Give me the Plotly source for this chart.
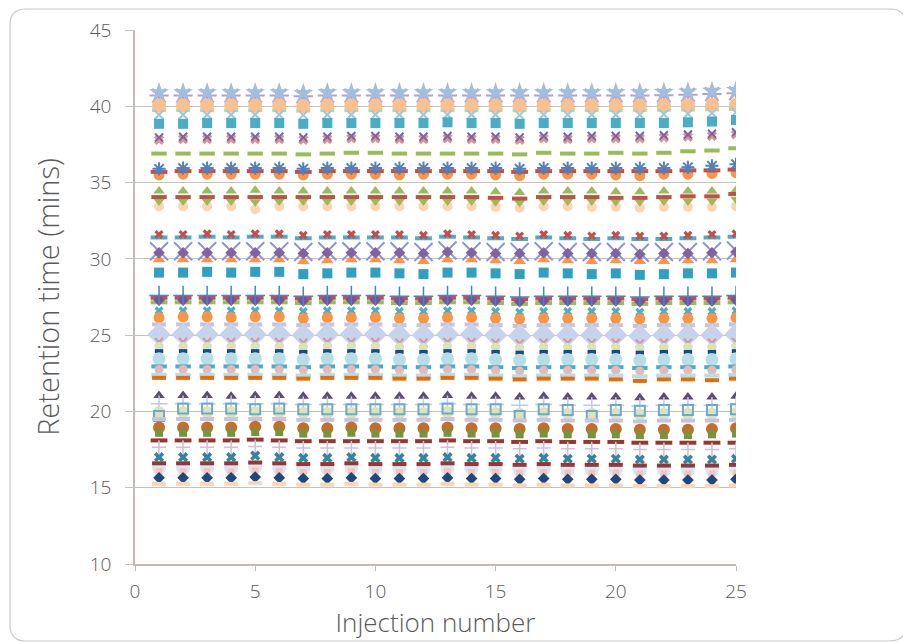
import plotly.graph_objects as go

injection = list(range(1, 26))

# Retention times (mins) per compound
rt_star_lb = [40.90,40.90,40.90,40.90,40.90,40.90,40.85,40.90,40.90,40.90,40.90,40.90,40.90,40.90,40.90,40.90,40.90,40.90,40.90,40.90,40.90,40.92,40.95,41.00,41.05]
rt_ast_lp = [40.70,40.70,40.70,40.70,40.70,40.70,40.65,40.70,40.70,40.70,40.70,40.70,40.70,40.70,40.70,40.70,40.70,40.70,40.70,40.70,40.70,40.72,40.75,40.80,40.85]
rt_circ_lo = [40.05,40.05,40.05,40.05,40.05,40.05,40.02,40.05,40.05,40.05,40.05,40.05,40.05,40.05,40.05,40.05,40.05,40.05,40.05,40.05,40.05,40.05,40.07,40.08,40.10]
rt_dash_lg = [39.75,39.75,39.75,39.75,39.75,39.75,39.72,39.75,39.75,39.75,39.75,39.75,39.75,39.75,39.75,39.75,39.75,39.75,39.75,39.75,39.75,39.77,39.78,39.80,39.82]
rt_x_la = [39.45,39.45,39.45,39.45,39.45,39.45,39.42,39.45,39.45,39.45,39.45,39.45,39.45,39.45,39.45,39.42,39.45,39.45,39.45,39.45,39.45,39.48,39.50,39.55,39.60]
rt_sq_aq = [38.85,38.85,38.90,38.90,38.90,38.90,38.85,38.90,38.90,38.90,38.90,38.90,38.95,38.90,38.90,38.85,38.90,38.90,38.90,38.90,38.90,38.90,38.95,39.00,39.10]
rt_x_pu = [37.95,38.00,38.00,38.00,38.00,38.00,37.95,38.00,38.05,38.05,38.00,38.00,38.05,38.00,38.00,37.95,38.05,38.00,38.05,38.05,38.05,38.10,38.15,38.20,38.30]
rt_x_lr = [37.80,37.85,37.85,37.85,37.85,37.85,37.80,37.85,37.90,37.90,37.85,37.85,37.90,37.85,37.85,37.80,37.90,37.85,37.90,37.90,37.90,37.95,38.00,38.05,38.15]
rt_dash_gr = [36.90,36.90,36.90,36.90,36.90,36.90,36.85,36.90,36.95,36.95,36.90,36.90,36.90,36.90,36.90,36.85,36.95,36.90,36.90,36.95,36.90,36.95,37.05,37.10,37.25]
rt_star_bl = [35.90,35.95,35.95,35.95,35.95,35.95,35.90,35.95,35.95,35.95,35.95,35.95,35.95,35.95,35.95,35.90,35.95,35.95,35.95,35.95,35.95,35.95,36.00,36.10,36.20]
rt_dash_rd = [35.70,35.75,35.75,35.75,35.75,35.75,35.70,35.75,35.75,35.75,35.75,35.75,35.75,35.75,35.75,35.70,35.75,35.75,35.75,35.75,35.75,35.75,35.80,35.80,35.85]
rt_circ_or = [35.50,35.55,35.55,35.55,35.55,35.55,35.50,35.55,35.55,35.55,35.50,35.55,35.55,35.55,35.50,35.45,35.55,35.55,35.55,35.50,35.45,35.55,35.55,35.60,35.65]
rt_tri_gr = [34.45,34.45,34.45,34.45,34.50,34.45,34.45,34.45,34.45,34.45,34.45,34.45,34.45,34.45,34.40,34.35,34.45,34.45,34.45,34.40,34.40,34.45,34.45,34.45,34.50]
rt_sq_rd = [34.05,34.05,34.05,34.05,34.05,34.05,34.05,34.05,34.05,34.05,34.05,34.05,34.05,34.05,34.00,33.95,34.05,34.05,34.05,34.00,34.00,34.05,34.10,34.10,34.25]
rt_tri_dg = [33.80,33.80,33.80,33.80,33.75,33.80,33.80,33.80,33.80,33.80,33.80,33.80,33.80,33.80,33.75,33.70,33.80,33.80,33.80,33.75,33.75,33.80,33.80,33.80,33.90]
rt_circ_lo2 = [33.45,33.45,33.45,33.45,33.25,33.45,33.45,33.45,33.45,33.45,33.45,33.45,33.45,33.45,33.40,33.35,33.45,33.45,33.40,33.40,33.35,33.40,33.40,33.40,33.45]
rt_x_rd = [31.60,31.60,31.65,31.60,31.65,31.65,31.55,31.60,31.60,31.60,31.60,31.55,31.65,31.60,31.55,31.50,31.60,31.55,31.50,31.55,31.50,31.50,31.55,31.60,31.65]
rt_dash_aq = [31.40,31.40,31.45,31.40,31.45,31.45,31.35,31.40,31.40,31.40,31.40,31.35,31.45,31.40,31.35,31.30,31.40,31.35,31.30,31.35,31.30,31.30,31.35,31.40,31.45]
rt_x_big = [30.50,30.50,30.50,30.50,30.50,30.50,30.45,30.50,30.50,30.50,30.50,30.45,30.55,30.50,30.45,30.45,30.50,30.45,30.45,30.45,30.40,30.45,30.45,30.50,30.55]
rt_dia_pu = [30.40,30.40,30.40,30.40,30.40,30.40,30.35,30.40,30.40,30.40,30.40,30.35,30.45,30.40,30.35,30.35,30.40,30.35,30.35,30.35,30.30,30.35,30.35,30.40,30.45]
rt_tri_or = [29.95,29.95,29.95,29.95,29.95,29.95,29.85,29.90,29.95,29.95,29.90,29.85,29.95,29.95,29.90,29.85,29.95,29.90,29.85,29.90,29.85,29.85,29.90,29.90,29.95]
rt_sq_da = [29.10,29.10,29.15,29.10,29.15,29.15,29.00,29.05,29.10,29.10,29.05,29.00,29.10,29.10,29.05,29.00,29.10,29.05,29.00,29.05,28.95,29.00,29.05,29.05,29.10]
rt_plus_bl = [27.60,27.60,27.60,27.60,27.60,27.60,27.55,27.60,27.60,27.60,27.55,27.55,27.60,27.60,27.55,27.50,27.55,27.55,27.55,27.55,27.50,27.55,27.55,27.55,27.60]
rt_dash_rd2 = [27.45,27.45,27.45,27.45,27.45,27.45,27.40,27.45,27.45,27.45,27.40,27.40,27.45,27.45,27.40,27.35,27.40,27.40,27.40,27.40,27.35,27.40,27.40,27.40,27.45]
rt_dia_pu2 = [27.30,27.30,27.30,27.30,27.30,27.30,27.25,27.30,27.30,27.30,27.25,27.25,27.30,27.30,27.25,27.20,27.25,27.25,27.25,27.25,27.20,27.25,27.25,27.25,27.30]
rt_dash_gr2 = [27.15,27.15,27.15,27.15,27.15,27.15,27.10,27.15,27.15,27.15,27.10,27.10,27.15,27.15,27.10,27.05,27.10,27.10,27.10,27.10,27.05,27.10,27.10,27.10,27.15]
rt_x_aq = [26.60,26.60,26.60,26.60,26.60,26.60,26.55,26.60,26.60,26.60,26.55,26.55,26.60,26.60,26.55,26.50,26.55,26.55,26.55,26.55,26.50,26.55,26.55,26.55,26.60]
rt_circ_or2 = [26.15,26.20,26.20,26.15,26.20,26.20,26.10,26.15,26.15,26.15,26.10,26.10,26.15,26.15,26.10,26.05,26.10,26.10,26.10,26.10,26.05,26.10,26.10,26.10,26.15]
rt_dash_lp = [25.70,25.70,25.70,25.70,25.70,25.70,25.65,25.70,25.70,25.70,25.65,25.65,25.70,25.70,25.65,25.60,25.65,25.65,25.65,25.65,25.60,25.65,25.65,25.65,25.70]
rt_dia_big = [25.05,25.05,25.05,25.05,25.05,25.05,25.00,25.05,25.05,25.05,25.00,25.00,25.05,25.05,25.00,24.95,25.00,25.00,25.00,25.00,24.95,25.00,25.00,25.00,25.05]
rt_x_lr2 = [24.55,24.55,24.55,24.55,24.55,24.55,24.50,24.55,24.55,24.55,24.50,24.50,24.55,24.55,24.50,24.45,24.50,24.50,24.50,24.50,24.45,24.50,24.50,24.50,24.55]
rt_circ_lg = [24.25,24.25,24.25,24.25,24.25,24.25,24.20,24.25,24.25,24.25,24.20,24.20,24.25,24.25,24.20,24.15,24.20,24.20,24.20,24.20,24.15,24.20,24.20,24.20,24.25]
rt_dash_db = [23.95,23.95,23.95,23.95,23.95,23.95,23.90,23.95,23.95,23.95,23.90,23.90,23.95,23.95,23.90,23.85,23.90,23.90,23.90,23.90,23.85,23.90,23.90,23.90,23.95]
rt_circ_la = [23.45,23.45,23.45,23.45,23.45,23.45,23.40,23.45,23.45,23.45,23.40,23.40,23.45,23.45,23.40,23.35,23.40,23.40,23.40,23.40,23.35,23.40,23.40,23.40,23.45]
rt_dash_aq2 = [22.95,22.95,22.95,22.95,22.95,22.95,22.90,22.95,22.95,22.95,22.90,22.90,22.95,22.95,22.90,22.85,22.90,22.90,22.90,22.90,22.85,22.90,22.90,22.90,22.95]
rt_circ_pk = [22.75,22.75,22.75,22.75,22.75,22.75,22.70,22.75,22.75,22.75,22.70,22.70,22.75,22.75,22.70,22.65,22.70,22.70,22.70,22.70,22.65,22.70,22.70,22.70,22.75]
rt_dash_la = [22.40,22.40,22.40,22.40,22.40,22.40,22.35,22.40,22.40,22.40,22.35,22.35,22.40,22.40,22.35,22.30,22.35,22.35,22.35,22.35,22.30,22.35,22.35,22.35,22.40]
rt_dash_or = [22.20,22.20,22.20,22.20,22.20,22.20,22.15,22.20,22.20,22.20,22.15,22.15,22.20,22.20,22.15,22.10,22.15,22.15,22.15,22.10,22.00,22.10,22.10,22.05,22.15]
rt_tri_dp = [21.05,21.05,21.05,21.00,21.05,21.05,21.00,21.00,21.00,21.00,21.00,21.00,21.05,21.00,21.00,20.95,21.00,20.95,20.95,20.95,20.90,20.95,20.95,20.95,21.00]
rt_plus_lb = [20.50,20.50,20.50,20.50,20.50,20.50,20.45,20.45,20.45,20.45,20.45,20.45,20.50,20.45,20.45,20.40,20.45,20.40,20.40,20.40,20.35,20.40,20.40,20.40,20.45]
rt_sq_bl = [19.70,20.20,20.20,20.20,20.15,20.20,20.15,20.15,20.15,20.15,20.15,20.15,20.20,20.15,20.15,19.70,20.15,20.10,19.70,20.10,20.05,20.10,20.10,20.10,20.15]
rt_circ_lg2 = [19.95,19.95,19.95,19.95,19.95,19.95,19.90,19.90,19.90,19.90,19.90,19.90,19.95,19.90,19.90,19.85,19.90,19.85,19.85,19.85,19.80,19.85,19.85,19.85,19.90]
rt_dash_lp2 = [19.50,19.50,19.50,19.50,19.50,19.50,19.45,19.45,19.45,19.45,19.45,19.45,19.50,19.45,19.45,19.40,19.45,19.40,19.40,19.40,19.35,19.40,19.40,19.40,19.45]
rt_circ_br = [18.95,18.95,18.95,18.95,19.00,19.00,18.90,18.90,18.95,18.90,18.90,18.90,18.95,18.90,18.90,18.85,18.90,18.85,18.85,18.85,18.80,18.80,18.80,18.85,18.90]
rt_sq_gr = [18.60,18.60,18.60,18.60,18.65,18.65,18.55,18.55,18.60,18.55,18.55,18.55,18.60,18.55,18.55,18.50,18.55,18.50,18.50,18.50,18.45,18.45,18.45,18.50,18.55]
rt_dash_dr = [18.10,18.10,18.10,18.10,18.15,18.10,18.05,18.05,18.05,18.05,18.05,18.05,18.10,18.05,18.05,18.00,18.05,18.00,18.00,18.00,17.95,17.95,17.95,17.95,17.95]
rt_plus_lp = [17.65,17.65,17.65,17.65,17.70,17.65,17.60,17.60,17.60,17.60,17.60,17.60,17.65,17.60,17.60,17.55,17.60,17.55,17.55,17.55,17.50,17.50,17.50,17.50,17.55]
rt_x_te = [17.00,17.00,17.00,17.00,17.10,17.00,16.95,16.95,17.00,16.95,16.95,16.95,17.00,16.95,16.95,16.90,16.95,16.90,16.90,16.90,16.85,16.85,16.85,16.85,16.90]
rt_dash_dr2 = [16.60,16.60,16.60,16.60,16.65,16.60,16.55,16.55,16.60,16.55,16.55,16.55,16.60,16.55,16.55,16.50,16.55,16.50,16.50,16.50,16.45,16.45,16.45,16.45,16.50]
rt_circ_bg = [16.30,16.30,16.30,16.30,16.35,16.30,16.25,16.25,16.30,16.25,16.25,16.25,16.30,16.25,16.25,16.20,16.25,16.20,16.20,16.20,16.15,16.15,16.15,16.15,16.20]
rt_sq_pk = [16.05,16.05,16.05,16.05,16.10,16.05,16.00,16.00,16.05,16.00,16.00,16.00,16.05,16.00,16.00,15.95,16.00,15.95,15.95,15.95,15.90,15.90,15.90,15.90,15.95]
rt_dia_db = [15.65,15.65,15.65,15.65,15.70,15.65,15.60,15.60,15.65,15.60,15.60,15.60,15.65,15.60,15.60,15.55,15.60,15.55,15.55,15.55,15.50,15.50,15.50,15.50,15.55]
rt_dash_lo = [15.25,15.25,15.25,15.25,15.30,15.25,15.20,15.20,15.25,15.20,15.20,15.20,15.25,15.20,15.20,15.15,15.20,15.15,15.15,15.15,15.10,15.10,15.10,15.10,15.15]

# Style per series: (values, symbol, colour, size)
series = [
    (rt_ast_lp, "asterisk-open", "#B3A2C7", 16),
    (rt_star_lb, "star", "#A3BDE0", 15),
    (rt_dash_lg, "line-ew-open", "#C3D69B", 10),
    (rt_circ_lo, "circle", "#FAC090", 14),
    (rt_x_la, "x-thin-open", "#93CDDD", 9),
    (rt_sq_aq, "square", "#4BACC6", 10),
    (rt_x_lr, "x", "#D99694", 9),
    (rt_x_pu, "x-thin-open", "#8064A2", 8),
    (rt_dash_gr, "line-ew-open", "#9BBB59", 11),
    (rt_circ_or, "circle", "#F79646", 11),
    (rt_dash_rd, "line-ew-open", "#C0504D", 12),
    (rt_star_bl, "asterisk-open", "#4F81BD", 11),
    (rt_circ_lo2, "circle", "#FCD5B5", 10),
    (rt_tri_dg, "triangle-down", "#9BBB59", 10),
    (rt_tri_gr, "triangle-up", "#9BBB59", 10),
    (rt_sq_rd, "line-ew-open", "#C0504D", 11),
    (rt_dash_aq, "line-ew-open", "#4BACC6", 12),
    (rt_x_rd, "x", "#C0504D", 8),
    (rt_tri_or, "triangle-up", "#F79646", 11),
    (rt_x_big, "x-thin-open", "#8E94D6", 18),
    (rt_dia_pu, "diamond", "#8064A2", 9),
    (rt_sq_da, "square", "#31A0BE", 10),
    (rt_dash_gr2, "line-ew-open", "#9BBB59", 12),
    (rt_dash_rd2, "line-ew-open", "#C0504D", 12),
    (rt_dia_pu2, "diamond", "#7452A0", 9),
    (rt_plus_bl, "cross-thin-open", "#4F81BD", 14),
    (rt_x_aq, "x", "#4BACC6", 8),
    (rt_circ_or2, "circle", "#F79646", 11),
    (rt_dash_lp, "line-ew-open", "#CCC1DA", 10),
    (rt_dia_big, "diamond", "#C6D3EC", 18),
    (rt_x_lr2, "x-thin-open", "#D99694", 8),
    (rt_circ_lg, "circle", "#D7E4BD", 9),
    (rt_dash_db, "line-ew-open", "#1F497D", 6),
    (rt_circ_la, "circle", "#B7DEE8", 13),
    (rt_dash_aq2, "line-ew-open", "#4BACC6", 11),
    (rt_circ_pk, "circle", "#E6B9B8", 9),
    (rt_dash_la, "line-ew-open", "#B7DEE8", 11),
    (rt_dash_or, "line-ew-open", "#E46C0A", 10),
    (rt_tri_dp, "triangle-up", "#5F497A", 10),
    (rt_plus_lb, "cross-thin-open", "#B9CDE5", 12),
    (rt_circ_lg2, "circle", "#D7E4BD", 12),
    (rt_sq_bl, "square-open", "#6FA8C8", 10),
    (rt_dash_lp2, "line-ew-open", "#CCC1DA", 10),
    (rt_circ_br, "circle", "#C0702C", 12),
    (rt_sq_gr, "square", "#77933C", 8),
    (rt_dash_dr, "line-ew-open", "#953735", 12),
    (rt_plus_lp, "cross-thin-open", "#CCC1DA", 10),
    (rt_x_te, "x", "#31859C", 9),
    (rt_circ_bg, "circle", "#DCE6F2", 14),
    (rt_dash_dr2, "line-ew-open", "#953735", 10),
    (rt_sq_pk, "square", "#F2C4C2", 7),
    (rt_dia_db, "diamond", "#1F497D", 9),
    (rt_dash_lo, "line-ew-open", "#FCD5B5", 10),
]

fig = go.Figure()
for vals, sym, col, size in series:
    if sym.startswith("line"):
        lw = 4
    elif sym.startswith("cross-thin"):
        lw = 1.5
    elif sym.endswith("-open"):
        lw = 2
    else:
        lw = 0
    fig.add_trace(go.Scatter(
        x=injection, y=vals, mode="markers",
        marker=dict(symbol=sym, color=col, size=size,
                    line=dict(width=lw, color=col)),
        showlegend=False, hoverinfo="skip",
    ))

axis_col = "#C4BBB4"
grid_col = "#C8C2BE"
font_fam = "Open Sans, Lato, sans-serif"
txt_col = "#5A5A5A"

fig.update_layout(
    width=903, height=634,
    margin=dict(l=127, r=175, t=22, b=78),
    paper_bgcolor="white", plot_bgcolor="white",
    font=dict(family=font_fam, color=txt_col, size=19, weight=300),
    xaxis=dict(
        range=[0, 25], tickvals=[0, 5, 10, 15, 20, 25],
        showgrid=False, zeroline=False, automargin=False,
        showline=True, linecolor=axis_col, linewidth=1.5,
        ticks="outside", ticklen=5, tickcolor=axis_col,
        ticklabelstandoff=4,
        tickfont=dict(size=19, color=txt_col, family=font_fam, weight=300),
        title=dict(text="Injection number", font=dict(size=26, color=txt_col, family=font_fam, weight=300), standoff=9),
    ),
    yaxis=dict(
        range=[10, 45], tickvals=[10, 15, 20, 25, 30, 35, 40, 45],
        showgrid=True, gridcolor=grid_col, gridwidth=1.2,
        zeroline=False, automargin=False,
        showline=True, linecolor=axis_col, linewidth=1.5,
        ticks="outside", ticklen=8, tickcolor=grid_col,
        ticklabelstandoff=10,
        tickfont=dict(size=19, color=txt_col, family=font_fam, weight=300),
        title=dict(text="Retention time (mins)", font=dict(size=29, color=txt_col, family=font_fam, weight=300), standoff=22),
    ),
)

# Rounded outer frame (decoration, in paper coordinates)
pw, ph = 601.0, 534.0
def px(x):
    return (x - 127) / pw
def py(y):
    return (556 - y) / ph
L, R, T, B, rad = 2, 898, 1, 633, 16
path = (
    f"M {px(L + rad)},{py(T)} L {px(R - rad)},{py(T)} "
    f"Q {px(R)},{py(T)} {px(R)},{py(T + rad)} "
    f"L {px(R)},{py(B - rad)} Q {px(R)},{py(B)} {px(R - rad)},{py(B)} "
    f"L {px(L + rad)},{py(B)} Q {px(L)},{py(B)} {px(L)},{py(B - rad)} "
    f"L {px(L)},{py(T + rad)} Q {px(L)},{py(T)} {px(L + rad)},{py(T)} Z"
)
fig.add_shape(type="path", path=path, xref="paper", yref="paper",
              line=dict(color="#C8C8C8", width=1.2), layer="below")

fig.write_html("out.html")
